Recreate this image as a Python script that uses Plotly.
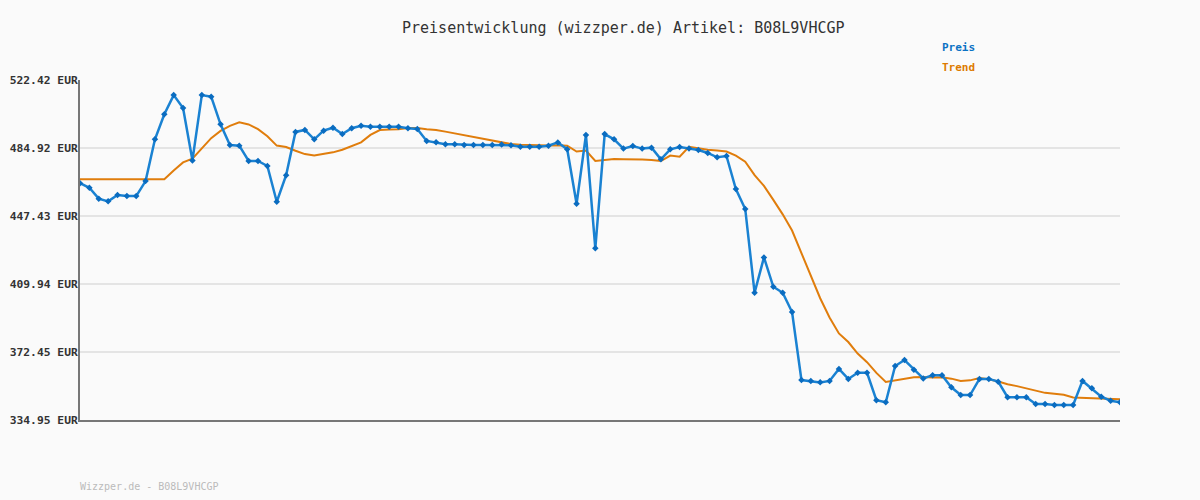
import plotly.graph_objects as go

price = [
    465.5, 463.0, 457.0, 455.5, 459.0, 458.4, 458.4, 466.7, 489.7, 503.5,
    514.1, 507.0, 478.1, 514.1, 513.2, 498.0, 486.6, 486.2, 477.8, 477.8,
    475.0, 455.3, 469.9, 493.8, 494.9, 489.7, 494.5, 496.1, 492.6, 495.8,
    497.2, 496.7, 496.7, 496.7, 496.7, 495.8, 495.4, 488.8, 488.1, 487.0,
    487.0, 486.6, 486.6, 486.6, 486.6, 486.8, 486.4, 485.6, 485.6, 485.6,
    486.2, 488.0, 484.2, 454.2, 492.1, 429.6, 492.6, 489.7, 484.6, 486.0,
    484.6, 485.1, 478.7, 484.2, 485.5, 484.7, 483.8, 482.2, 479.8, 480.5,
    462.3, 451.3, 405.1, 424.6, 408.4, 405.1, 394.5, 357.0, 356.5, 355.7,
    356.5, 363.1, 357.6, 361.0, 361.0, 345.9, 344.7, 364.7, 368.0, 362.7,
    357.9, 359.6, 359.6, 353.0, 348.7, 348.7, 357.6, 357.6, 356.1, 347.5,
    347.5, 347.5, 343.8, 343.8, 343.2, 343.2, 343.2, 356.5, 352.4, 347.8,
    345.6, 344.7,
]

trend = [
    467.71, 467.71, 467.71, 467.71, 467.71, 467.71, 467.71, 467.71, 467.71, 467.71,
    472.57, 476.97, 479.08, 484.94, 490.36, 494.32, 497.14, 499.09, 497.90, 495.33,
    491.42, 486.25, 485.43, 483.40, 481.57, 480.74, 481.53, 482.52, 484.00, 485.80,
    488.02, 492.16, 494.84, 495.13, 495.31, 495.92, 496.01, 495.28, 494.83, 493.95,
    492.93, 491.92, 490.91, 489.90, 488.89, 487.99, 487.09, 486.77, 486.52, 486.38,
    486.30, 486.44, 486.20, 482.96, 483.51, 477.79, 478.41, 478.82, 478.72, 478.76,
    478.60, 478.31, 477.76, 480.76, 480.10, 485.61, 484.73, 483.98, 483.50, 482.95,
    480.72, 477.34, 469.98, 464.02, 456.31, 448.35, 439.42, 426.90, 414.57, 402.09,
    391.51, 382.69, 377.94, 371.58, 366.84, 360.92, 355.94, 356.71, 357.86, 358.56,
    358.70, 358.35, 358.55, 357.75, 356.52, 356.80, 358.09, 357.38, 356.19, 354.67,
    353.63, 352.42, 350.84, 349.92, 349.37, 348.82, 347.38, 347.27, 346.90, 346.93,
    346.74, 346.46,
]

y_ticks = [334.95, 372.45, 409.94, 447.43, 484.92, 522.42]
y_tick_labels = ["334.95 EUR", "372.45 EUR", "409.94 EUR", "447.43 EUR", "484.92 EUR", "522.42 EUR"]

title_text = "Preisentwicklung (wizzper.de) Artikel: B08L9VHCGP"
footer_text = "Wizzper.de - B08L9VHCGP"
series_names = ["Preis", "Trend"]

x = list(range(len(price)))

MONO = "DejaVu Sans Mono"
BLUE = "#1a82d2"
ORANGE = "#e07d0c"

fig = go.Figure()
fig.add_trace(go.Scatter(
    x=x, y=trend, mode="lines", name=series_names[1],
    line=dict(color=ORANGE, width=2),
))
fig.add_trace(go.Scatter(
    x=x, y=price, mode="lines+markers", name=series_names[0],
    line=dict(color=BLUE, width=2.5),
    marker=dict(symbol="diamond", size=5, color="#0a6cc0"),
))

fig.update_layout(
    width=1200, height=500,
    margin=dict(l=80, r=80, t=80, b=80),
    paper_bgcolor="#fafafa", plot_bgcolor="#fafafa",
    showlegend=False,
    font=dict(family=MONO, color="#333333"),
    xaxis=dict(
        range=[0, len(price) - 1], showgrid=False, zeroline=False,
        showticklabels=False, ticks="", automargin=False,
        showline=True, linecolor="#777777", linewidth=2,
    ),
    yaxis=dict(
        range=[y_ticks[0], y_ticks[-1]],
        tickvals=y_ticks, ticktext=y_tick_labels,
        showgrid=True, gridcolor="#e4e4e4", gridwidth=2,
        zeroline=False, ticks="", automargin=False,
        showline=True, linecolor="#777777", linewidth=2,
        tickfont=dict(family=MONO, size=11.3, color="#333333", weight="bold"),
        ticklabelstandoff=-2,
    ),
    annotations=[
        dict(text=title_text, xref="paper", yref="paper", x=0.523, y=1.153,
             xanchor="center", yanchor="middle", showarrow=False,
             font=dict(family=MONO, size=15, color="#333333")),
        dict(text=series_names[0], xref="paper", yref="paper", x=0.8269, y=1.097,
             xanchor="left", yanchor="middle", showarrow=False,
             font=dict(family=MONO, size=11, color="#0a72c4", weight="bold")),
        dict(text=series_names[1], xref="paper", yref="paper", x=0.8269, y=1.038,
             xanchor="left", yanchor="middle", showarrow=False,
             font=dict(family=MONO, size=11, color="#dd7a00", weight="bold")),
        dict(text=footer_text, xref="paper", yref="paper", x=-0.002, y=-0.197,
             xanchor="left", yanchor="middle", showarrow=False,
             font=dict(family=MONO, size=10, color="#bbbbbb")),
    ],
)

fig.write_html(
    "out.html",
    config={"displayModeBar": False},
    post_script="document.body.style.margin='0';document.body.style.background='#fafafa';",
)
